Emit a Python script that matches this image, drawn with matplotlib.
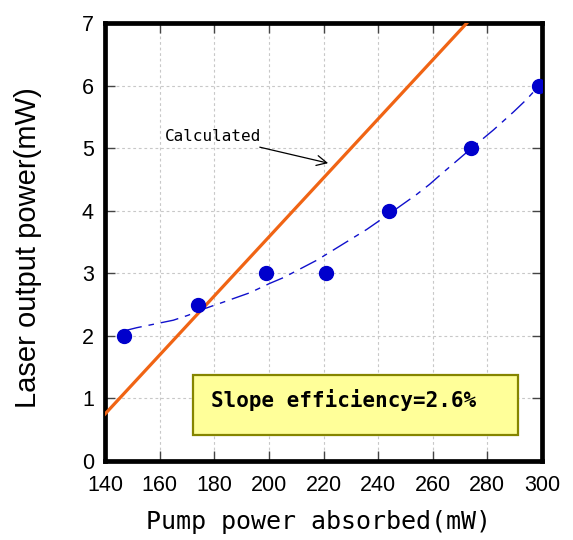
import matplotlib
matplotlib.use('Agg')
import matplotlib.pyplot as plt
from matplotlib.patches import Rectangle

# ---- data ----
meas_x = [147, 174, 199, 221, 244, 274, 299]
meas_y = [2.0, 2.5, 3.0, 3.0, 4.0, 5.0, 6.0]

# fitted curve, points
fit_x = [147, 151.6, 165, 170.5, 174.8, 182.1, 193.1, 200.4, 205.3, 217.6, 235.8, 244.4, 254.1, 258.8, 262.7, 273.7, 282.2, 289.6, 294.4, 299]
fit_y = [2.08, 2.13, 2.25, 2.33, 2.41, 2.52, 2.69, 2.84, 2.93, 3.21, 3.70, 3.96, 4.26, 4.42, 4.57, 4.98, 5.29, 5.58, 5.78, 6.0]

calc_x = [140, 272.5]
calc_y = [0.75, 7.0]

x_ticks = [140, 160, 180, 200, 220, 240, 260, 280, 300]
y_ticks = [0, 1, 2, 3, 4, 5, 6, 7]

annot_text = "Calculated"
box_text = "Slope efficiency=2.6%"
x_label = "Pump power absorbed(mW)"
y_label = "Laser output power(mW)"

# ---- figure ----
W, H = 573, 540
fig = plt.figure(figsize=(W / 100, H / 100), dpi=100)
ax = fig.add_axes([105 / W, 1 - 461 / H, (542 - 105) / W, (461 - 23) / H])

ax.set_xlim(140, 300)
ax.set_ylim(0, 7)
ax.set_xticks(x_ticks)
ax.set_yticks(y_ticks)

tick_font = ['Liberation Sans', 'DejaVu Sans']
ax.set_xticklabels([str(v) for v in x_ticks], family=tick_font, fontsize=15.5)
ax.set_yticklabels([str(v) for v in y_ticks], family=tick_font, fontsize=15.5)

ax.tick_params(direction='in', length=7, width=1.0, color='#444444',
               top=True, right=True, pad=8)
ax.tick_params(axis='x', pad=10)

for s in ax.spines.values():
    s.set_linewidth(3.4)
    s.set_color('black')

ax.grid(True, color='#c8c8c8', linestyle=(0, (2.5, 2.5)), linewidth=0.8)
ax.set_axisbelow(True)

# calculated line
ax.plot(calc_x, calc_y, color='#f06414', linewidth=2.3, zorder=3)

# fit curve
ax.plot(fit_x, fit_y, color='#1010cc', linewidth=1.0,
        dashes=(13, 5, 4, 5), zorder=3)

# measured points
ax.plot(meas_x, meas_y, 'o', color='#0000cc', markersize=10, zorder=4)

# annotation
ax.annotate(annot_text, xy=(221.7, 4.76), xytext=(179.6, 5.19),
            ha='center', va='center', fontsize=11.5, family='DejaVu Sans Mono',
            arrowprops=dict(arrowstyle='->', color='black', lw=0.9,
                            shrinkA=2, shrinkB=0, mutation_scale=18))

# slope efficiency box
ax.add_patch(Rectangle((0.201, 0.059), 0.744, 0.137, transform=ax.transAxes,
                       facecolor='#ffff99', edgecolor='#858500', linewidth=1.6,
                       zorder=5))
ax.text(0.243, 0.139, box_text, transform=ax.transAxes, ha='left', va='center',
        fontsize=15, fontweight='bold', family='DejaVu Sans Mono', zorder=6)

# labels
fig.text(318 / W, 1 - 522 / H, x_label, ha='center', va='center',
         fontsize=18, family='DejaVu Sans Mono')
fig.text(28 / W, 1 - 248 / H, y_label, ha='center', va='center',
         rotation=90, fontsize=21, family=['Liberation Sans', 'DejaVu Sans'])

fig.savefig('out.png', dpi=100)
